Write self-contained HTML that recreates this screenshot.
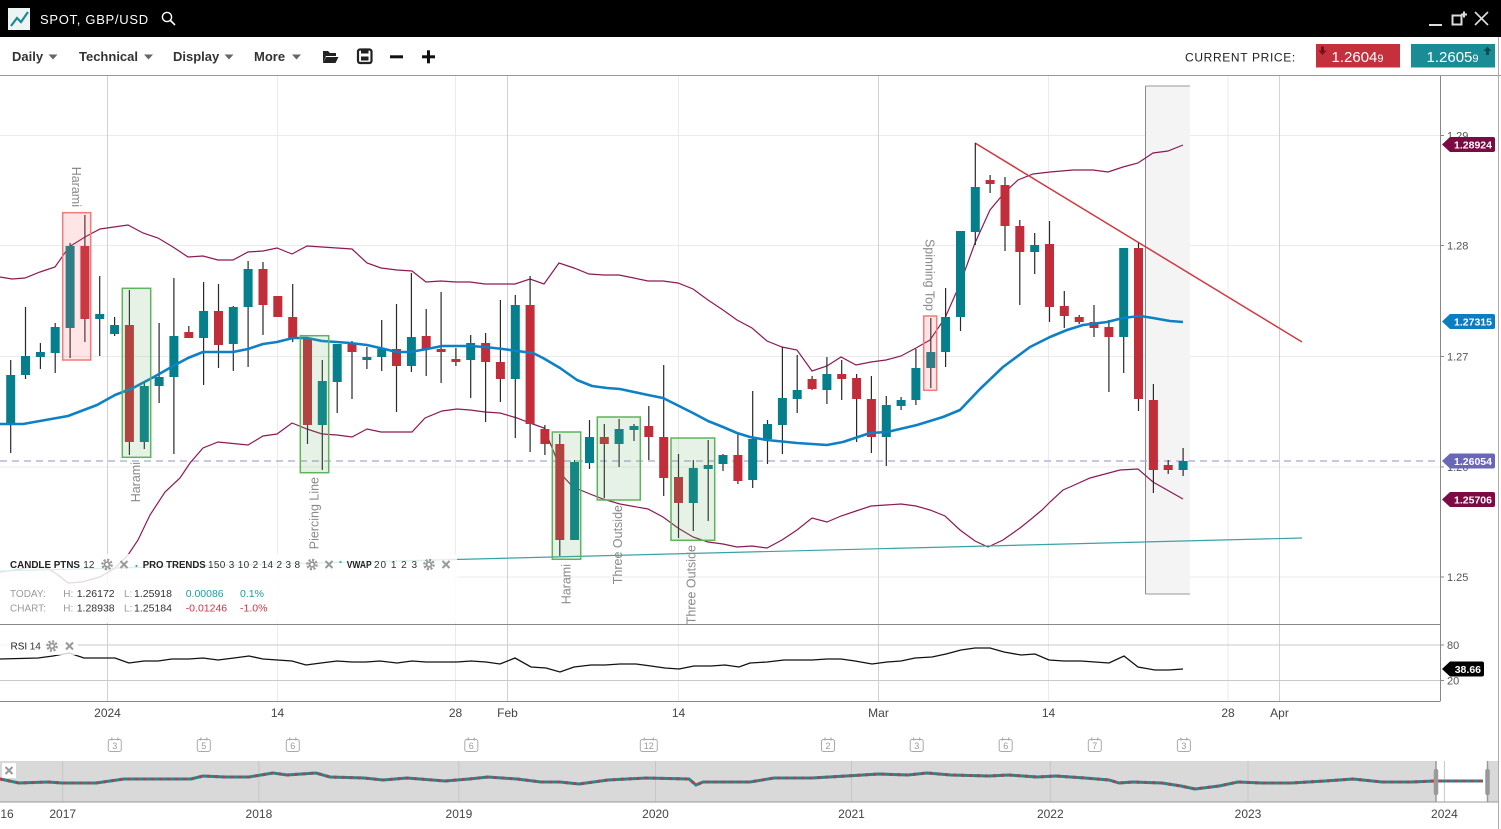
<!DOCTYPE html>
<html><head><meta charset="utf-8"><style>
html,body{margin:0;padding:0;background:#fff;width:1501px;height:829px;overflow:hidden}
svg{display:block;font-family:"Liberation Sans",Arial,sans-serif}
</style></head><body>
<svg width="1501" height="829" viewBox="0 0 1501 829" xmlns="http://www.w3.org/2000/svg">
<rect x="0" y="0" width="1501" height="829" fill="#fff"/>
<!-- title bar -->
<rect x="0" y="0" width="1501" height="37" fill="#000"/>
<rect x="8" y="8" width="22" height="22" fill="#eef3f3"/>
<polyline points="11,26 17,18 21,22 28,12" fill="none" stroke="#1a8a96" stroke-width="2.2"/>
<text x="40" y="24" fill="#fff" font-size="13" letter-spacing="0.7">SPOT, GBP/USD</text>
<circle cx="167" cy="17" r="4.6" fill="none" stroke="#fff" stroke-width="1.4"/>
<line x1="170.5" y1="20.5" x2="175" y2="25" stroke="#fff" stroke-width="1.6"/>
<line x1="1429" y1="25" x2="1442" y2="25" stroke="#ddd" stroke-width="2"/>
<rect x="1452.5" y="15.5" width="9" height="9" fill="none" stroke="#ddd" stroke-width="2"/>
<path d="M1461 14.5h6M1464 11.5v6" stroke="#ddd" stroke-width="2"/>
<path d="M1475 12L1488 25M1488 12L1475 25" stroke="#ddd" stroke-width="1.6"/>
<!-- toolbar -->
<g font-size="13" font-weight="bold" fill="#333">
<text x="12" y="61">Daily</text>
<text x="79" y="61">Technical</text>
<text x="173" y="61">Display</text>
<text x="254" y="61">More</text>
</g>
<g fill="#666">
<polygon points="48.5,54.5 57.5,54.5 53,59.5"/>
<polygon points="144,54.5 153,54.5 148.5,59.5"/>
<polygon points="224.5,54.5 233.5,54.5 229,59.5"/>
<polygon points="292,54.5 301,54.5 296.5,59.5"/>
</g>
<path d="M323 51h5l2 2h6v3h-10l-3 7z" fill="#222"/>
<path d="M326 57h12.5l-3 6h-12.5z" fill="#222"/>
<rect x="358" y="49.5" width="13.5" height="13.5" rx="2" fill="none" stroke="#222" stroke-width="2.2"/>
<rect x="361" y="50" width="7.5" height="3.5" fill="#222"/>
<rect x="361" y="56.5" width="7.5" height="4" fill="#222"/>
<rect x="390" y="55.3" width="13" height="3" fill="#111"/>
<rect x="422" y="55.3" width="13" height="3" fill="#111"/>
<rect x="427" y="50.3" width="3" height="13" fill="#111"/>
<text x="1185" y="61.5" font-size="12" fill="#222" letter-spacing="0.65">CURRENT PRICE:</text>
<rect x="1316" y="44" width="84" height="23.5" fill="#c4303b"/>
<text x="1331.5" y="62" font-size="15" fill="#fff">1.2604<tspan font-size="11">9</tspan></text>
<path d="M1321 46.5h3v4h2.5l-4 4.5l-4-4.5h2.5z" fill="#7a1018"/>
<rect x="1411" y="44" width="84" height="23.5" fill="#198c96"/>
<text x="1426.5" y="62" font-size="15" fill="#fff">1.2605<tspan font-size="11">9</tspan></text>
<path d="M1486 55v-4h-2.5l4-4.5l4 4.5h-2.5v4z" fill="#0b4f55"/>
<line x1="0" y1="75.5" x2="1501" y2="75.5" stroke="#999" stroke-width="1"/>
<line x1="1498.5" y1="37" x2="1498.5" y2="829" stroke="#aaa" stroke-width="1"/>

<!-- grid -->
<g stroke="#ebebeb" stroke-width="1">
<line x1="0" y1="135.5" x2="1440" y2="135.5"/>
<line x1="0" y1="245.5" x2="1440" y2="245.5"/>
<line x1="0" y1="356.5" x2="1440" y2="356.5"/>
<line x1="0" y1="467" x2="1440" y2="467"/>
<line x1="0" y1="577" x2="1440" y2="577"/>
<line x1="277.5" y1="76" x2="277.5" y2="701"/>
<line x1="455.5" y1="76" x2="455.5" y2="701"/>
<line x1="678.5" y1="76" x2="678.5" y2="701"/>
<line x1="1048.5" y1="76" x2="1048.5" y2="701"/>
<line x1="1228" y1="76" x2="1228" y2="701"/>
</g>
<g stroke="#d2d2d2" stroke-width="1">
<line x1="107.5" y1="76" x2="107.5" y2="701"/>
<line x1="507.5" y1="76" x2="507.5" y2="701"/>
<line x1="878.5" y1="76" x2="878.5" y2="701"/>
<line x1="1279.5" y1="76" x2="1279.5" y2="701"/>
</g>

<!-- highlighted region -->
<rect x="1145.5" y="86" width="44.5" height="508" fill="#f4f4f4"/>
<line x1="1145.5" y1="86" x2="1190" y2="86" stroke="#999"/>
<line x1="1145.5" y1="594" x2="1190" y2="594" stroke="#999"/>
<line x1="1145.5" y1="86" x2="1145.5" y2="594" stroke="#888"/>

<!-- current price dashed -->
<line x1="0" y1="461" x2="1440" y2="461" stroke="#b8b3da" stroke-width="1.5" stroke-dasharray="7,5"/>

<!-- bollinger -->
<polyline fill="none" stroke="#8c1a55" stroke-width="1.2" points="0,277 12,279 25,278 40,272 55,267 69,247 85,237 100,229 128,225 143,233 158,238 173,247 188,257 203,256 218,260 233,260 248,252 263,251 277,248 292,254 307,246 322,247 337,248 352,249 367,263 381,268 397,270 412,271 426,282 441,281 456,282 470,282 485,284 500,284 515,284 530,279 544,284 559,263 574,268 589,274 604,275 619,275 634,278 648,281 663,281 678,283 693,289 708,300 723,310 737,320 752,328 767,341 782,347 797,350 812,371 827,366 841,357 856,365 871,362 886,360 901,356 916,348 930,340 945,318 960,284 975,243 990,210 1005,192 1018,180 1033,174 1050,172 1073,170 1093,170 1108,172 1123,167 1138,163 1153,153 1168,151 1183,145"/>
<polyline fill="none" stroke="#8c1a55" stroke-width="1.2" points="0,572 15,570 30,567 47,568 58,575 68,583 82,582 100,577 115,568 128,555 138,540 150,515 165,492 180,478 190,463 203,448 218,442 248,445 263,436 277,434 292,423 307,429 322,434 337,435 352,437 367,429 381,432 397,432 412,432 425,418 442,411 457,409 470,410 485,412 500,413 517,418 530,423 544,428 557,460 560,473 573,487 590,494 603,499 620,504 648,509 663,517 678,528 693,537 708,542 723,544 737,547 752,546 767,548 782,540 797,530 812,518 827,522 841,516 856,511 871,506 886,505 901,504 916,506 930,510 945,516 960,530 975,541 988,547 1003,540 1020,528 1030,520 1042,510 1050,502 1063,490 1070,487 1090,478 1120,470 1138,469 1153,482 1183,499"/>
<!-- trend lines -->
<line x1="0" y1="571" x2="1302" y2="538" stroke="#3aa3a6" stroke-width="1.2"/>
<line x1="975" y1="143" x2="1302" y2="342" stroke="#d03a40" stroke-width="1.5"/>

<!-- candles wicks -->
<path stroke="#2a2a2a" stroke-width="1.2" fill="none" d="M10.7 360V453M25.5 307V379M40.4 343V369M55.2 323V373M70.1 243V358M84.9 215V342M99.7 276V356M114.6 317V336M129.4 290V455M144.3 383V449M159.1 323V403M173.9 278V454M188.8 326V338M203.6 282V385M218.5 284V368M233.3 306V371M248.1 261V367M263 262V335M277.8 296V317M292.7 284V342M307.5 339V444M322.3 360V470M337.2 344V413M352 341V399M366.9 347V369M381.7 320V371M396.5 304V412M411.4 273V372M426.2 309V376M441.1 292V383M455.9 348V366M470.7 335V398M485.6 333V422M500.4 300V402M515.3 295V438M530.1 276V452M544.9 425V455M559.8 434V556M574.6 460V540M589.5 420V469M604.3 424V498M619.1 419V467M634 424V441M648.8 406V460M663.7 365V496M678.5 454V538M693.3 460V531M708.2 440V521M723 454V471M737.9 433V484M752.7 391V488M767.5 420V464M782.4 347V454M797.2 355V413M812.1 376V390M826.9 357V404M841.7 360V400M856.6 374V442M871.4 376V453M886.3 396V466M901.1 397V410M915.9 349V405M930.8 318V388M945.6 288V367M960.5 231V331M975.3 143V245M990.1 175V193M1005 177V251M1019.8 220V305M1034.7 233V274M1049.5 221V322M1064.3 291V328M1079.2 315V324M1094 305V337M1108.9 320V392M1123.7 248V373M1138.5 243V411M1153.4 384V493M1168.2 460V474M1183.1 448V476"/>
<!-- teal bodies -->
<g fill="#057f8b">
<rect x="6.2" y="375" width="9" height="48"/>
<rect x="21" y="356" width="9" height="19"/>
<rect x="35.9" y="352" width="9" height="5"/>
<rect x="50.7" y="327" width="9" height="26"/>
<rect x="65.6" y="246" width="9" height="82"/>
<rect x="95.2" y="314" width="9" height="5"/>
<rect x="110.1" y="325" width="9" height="9"/>
<rect x="139.8" y="386" width="9" height="56"/>
<rect x="154.6" y="377" width="9" height="9"/>
<rect x="169.4" y="336" width="9" height="41"/>
<rect x="199.1" y="311" width="9" height="27"/>
<rect x="228.8" y="307" width="9" height="37"/>
<rect x="243.6" y="269" width="9" height="38"/>
<rect x="317.8" y="381" width="9" height="44"/>
<rect x="332.7" y="344" width="9" height="38"/>
<rect x="362.4" y="357" width="9" height="3"/>
<rect x="377.2" y="349" width="9" height="8"/>
<rect x="406.9" y="337" width="9" height="29"/>
<rect x="466.2" y="343" width="9" height="17"/>
<rect x="510.8" y="305" width="9" height="74"/>
<rect x="570.1" y="462" width="9" height="78"/>
<rect x="585" y="437" width="9" height="26"/>
<rect x="614.6" y="429" width="9" height="15"/>
<rect x="629.5" y="426" width="9" height="4"/>
<rect x="688.8" y="468" width="9" height="35"/>
<rect x="703.7" y="465" width="9" height="4"/>
<rect x="718.5" y="455" width="9" height="9"/>
<rect x="748.2" y="439" width="9" height="41"/>
<rect x="763" y="424" width="9" height="15"/>
<rect x="777.9" y="398" width="9" height="27"/>
<rect x="792.7" y="390" width="9" height="9"/>
<rect x="822.4" y="374" width="9" height="16"/>
<rect x="881.8" y="405" width="9" height="32"/>
<rect x="896.6" y="400" width="9" height="6"/>
<rect x="911.4" y="368" width="9" height="32"/>
<rect x="926.3" y="352" width="9" height="16"/>
<rect x="941.1" y="317" width="9" height="35"/>
<rect x="956" y="231" width="9" height="86"/>
<rect x="970.8" y="187" width="9" height="45"/>
<rect x="1030.2" y="245" width="9" height="7"/>
<rect x="1119.2" y="248" width="9" height="89"/>
<rect x="1178.6" y="461" width="9" height="9"/>
</g>
<!-- red bodies -->
<g fill="#c12d39">
<rect x="80.4" y="246" width="9" height="73"/>
<rect x="124.9" y="325" width="9" height="117"/>
<rect x="184.3" y="332" width="9" height="6"/>
<rect x="214" y="311" width="9" height="34"/>
<rect x="258.5" y="269" width="9" height="36"/>
<rect x="273.3" y="296" width="9" height="21"/>
<rect x="288.2" y="317" width="9" height="22"/>
<rect x="303" y="339" width="9" height="86"/>
<rect x="347.5" y="344" width="9" height="8"/>
<rect x="392" y="349" width="9" height="17"/>
<rect x="421.7" y="336" width="9" height="13"/>
<rect x="436.6" y="349" width="9" height="3"/>
<rect x="451.4" y="359" width="9" height="3"/>
<rect x="481.1" y="343" width="9" height="19"/>
<rect x="495.9" y="362" width="9" height="17"/>
<rect x="525.6" y="305" width="9" height="119"/>
<rect x="540.4" y="429" width="9" height="15"/>
<rect x="555.3" y="444" width="9" height="96"/>
<rect x="599.8" y="437" width="9" height="7"/>
<rect x="644.3" y="426" width="9" height="11"/>
<rect x="659.2" y="437" width="9" height="41"/>
<rect x="674" y="477" width="9" height="26"/>
<rect x="733.4" y="455" width="9" height="26"/>
<rect x="807.6" y="379" width="9" height="10"/>
<rect x="837.2" y="374" width="9" height="5"/>
<rect x="852.1" y="378" width="9" height="21"/>
<rect x="866.9" y="399" width="9" height="38"/>
<rect x="985.6" y="180" width="9" height="4"/>
<rect x="1000.5" y="185" width="9" height="41"/>
<rect x="1015.3" y="226" width="9" height="26"/>
<rect x="1045" y="244" width="9" height="63"/>
<rect x="1059.8" y="306" width="9" height="10"/>
<rect x="1074.7" y="317" width="9" height="5"/>
<rect x="1089.5" y="322" width="9" height="6"/>
<rect x="1104.4" y="327" width="9" height="10"/>
<rect x="1134" y="248" width="9" height="151"/>
<rect x="1148.9" y="400" width="9" height="70"/>
<rect x="1163.7" y="465" width="9" height="5"/>
</g>

<!-- moving average -->
<polyline fill="none" stroke="#0d80c6" stroke-width="2.6" stroke-linejoin="round" points="0,424 23,424 68,416 97,405 115,395 133,388 152,378 175,365 188,358 203,352 233,352 248,349 263,344 277,342 293,338 307,338 322,341 337,342 350,343 367,345 380,348 397,352 410,352 427,349 442,346 470,346 485,347 503,349 517,351 533,353 543,358 560,368 577,380 592,386 607,388 620,389 648,395 663,398 677,405 693,413 708,421 723,427 737,433 750,437 767,440 797,443 827,445 843,442 870,433 887,432 917,425 943,417 960,410 980,389 1003,367 1030,347 1050,337 1067,330 1083,325 1107,322 1123,318 1140,316 1153,318 1170,321 1183,322"/>

<!-- pattern boxes -->
<g stroke-width="1.5">
<rect x="62.7" y="212.7" width="28" height="147.3" fill="rgba(255,110,110,0.18)" stroke="#f27a7a"/>
<rect x="923.7" y="316" width="13" height="74.3" fill="rgba(255,110,110,0.18)" stroke="#f27a7a"/>
<g fill="rgba(100,175,100,0.17)" stroke="#5cb55c">
<rect x="122.3" y="288.3" width="28.4" height="169"/>
<rect x="300.3" y="335.7" width="28.4" height="137"/>
<rect x="552.3" y="432" width="28.4" height="127.3"/>
<rect x="597.3" y="417" width="43" height="83"/>
<rect x="671" y="438" width="43.7" height="102.3"/>
</g>
</g>
<!-- pattern labels -->
<g font-size="12.5" fill="#8a8a8a">
<text transform="translate(72,207) rotate(90)" text-anchor="end">Harami</text>
<text transform="translate(925.5,311) rotate(90)" text-anchor="end">Spinning Top</text>
<text transform="translate(140,462) rotate(-90)" text-anchor="end">Harami</text>
<text transform="translate(318.5,477) rotate(-90)" text-anchor="end">Piercing Line</text>
<text transform="translate(570.5,564) rotate(-90)" text-anchor="end">Harami</text>
<text transform="translate(622,505) rotate(-90)" text-anchor="end">Three Outside</text>
<text transform="translate(695.5,545) rotate(-90)" text-anchor="end">Three Outside</text>
</g>

<!-- legend overlay -->
<rect x="0" y="554" width="457" height="69" fill="#fff" fill-opacity="0.82"/>
<g font-size="10" fill="#222">
<text x="10" y="568" font-weight="bold" textLength="70" lengthAdjust="spacingAndGlyphs">CANDLE PTNS</text>
<text x="83.3" y="568" fill="#333">12</text>
<text x="142.7" y="568" font-weight="bold" textLength="63" lengthAdjust="spacingAndGlyphs">PRO TRENDS</text>
<text x="208" y="568" fill="#333" textLength="92">150 3 10 2 14 2 3 8</text>
<text x="346.7" y="568" font-weight="bold" textLength="25" lengthAdjust="spacingAndGlyphs">VWAP</text>
<text x="374" y="568" fill="#333" textLength="43">20 1 2 3</text>
</g>
<circle cx="136.5" cy="566" r="1.1" fill="#3aa3a6"/>
<circle cx="340.5" cy="562" r="1.1" fill="#3aa3a6"/>
<g fill="#999" stroke="#999">
<g transform="translate(107,564.5)"><circle r="3.3" stroke="none"/><circle r="4.6" fill="none" stroke-width="2.4" stroke-dasharray="2.1 1.5"/><circle r="1.5" fill="#fff" stroke="none"/></g>
<g transform="translate(312,564.5)"><circle r="3.3" stroke="none"/><circle r="4.6" fill="none" stroke-width="2.4" stroke-dasharray="2.1 1.5"/><circle r="1.5" fill="#fff" stroke="none"/></g>
<g transform="translate(429,564.5)"><circle r="3.3" stroke="none"/><circle r="4.6" fill="none" stroke-width="2.4" stroke-dasharray="2.1 1.5"/><circle r="1.5" fill="#fff" stroke="none"/></g>
<path fill="none" stroke-width="2" d="M120.5 561L127.5 568M127.5 561L120.5 568M325.5 561L332.5 568M332.5 561L325.5 568M442.5 561L449.5 568M449.5 561L442.5 568"/>
</g>
<g font-size="10">
<text x="10" y="597" fill="#9a9a9a">TODAY:</text>
<text x="63.3" y="597" fill="#9a9a9a">H:</text>
<text x="76.7" y="597" fill="#333" font-size="10.5">1.26172</text>
<text x="124" y="597" fill="#9a9a9a">L:</text>
<text x="134" y="597" fill="#333" font-size="10.5">1.25918</text>
<text x="185.7" y="597" fill="#1b9ba2" font-size="10.5">0.00086</text>
<text x="240" y="597" fill="#1b9ba2" font-size="10.5">0.1%</text>
<text x="10" y="611.5" fill="#9a9a9a">CHART:</text>
<text x="63.3" y="611.5" fill="#9a9a9a">H:</text>
<text x="76.7" y="611.5" fill="#333" font-size="10.5">1.28938</text>
<text x="124" y="611.5" fill="#9a9a9a">L:</text>
<text x="134" y="611.5" fill="#333" font-size="10.5">1.25184</text>
<text x="185.7" y="611.5" fill="#d23343" font-size="10.5">-0.01246</text>
<text x="240" y="611.5" fill="#d23343" font-size="10.5">-1.0%</text>
</g>

<!-- panes borders -->
<line x1="0" y1="624.5" x2="1440" y2="624.5" stroke="#888"/>
<line x1="0" y1="645" x2="1440" y2="645" stroke="#c9c9c9"/>
<line x1="0" y1="680.5" x2="1440" y2="680.5" stroke="#c9c9c9"/>
<line x1="0" y1="701.5" x2="1440" y2="701.5" stroke="#888"/>
<line x1="1440.5" y1="76" x2="1440.5" y2="701.5" stroke="#888"/>
<!-- rsi -->
<polyline fill="none" stroke="#111" stroke-width="1.3" points="0,659 38,658 53,656 69,653 84,658 115,658 129,663 144,661 158,661 172,659 189,659 203,658 218,660 234,658 249,656 263,659 292,661 306,665 321,663 337,661 352,662 366,662 380,661 397,663 412,661 426,662 440,662 457,662 471,661 486,662 500,664 515,658 531,667 546,668 560,672 574,667 591,665 605,665 620,664 636,664 651,666 665,668 679,669 694,666 711,666 725,665 739,667 750,663 767,662 784,660 798,660 812,660 827,659 841,659 855,661 872,664 887,662 901,661 915,658 932,657 946,654 961,650 975,648 990,648 1004,652 1021,655 1035,654 1049,660 1064,661 1081,661 1095,662 1109,663 1124,656 1138,667 1155,670 1169,670 1183,669"/>
<rect x="0" y="638" width="78" height="17" fill="#fff" fill-opacity="0.8"/>
<text x="10.5" y="649.5" font-size="10" fill="#222">RSI</text>
<text x="29.7" y="649.5" font-size="10" fill="#333">14</text>
<g fill="#999" stroke="#999">
<g transform="translate(52,646)"><circle r="3.3" stroke="none"/><circle r="4.6" fill="none" stroke-width="2.4" stroke-dasharray="2.1 1.5"/><circle r="1.5" fill="#fff" stroke="none"/></g>
<path fill="none" stroke-width="2" d="M66 642.5L73 649.5M73 642.5L66 649.5"/>
</g>

<!-- right axis -->
<g stroke="#888"><path d="M1440 135.5h4M1440 245.5h4M1440 356.5h4M1440 467h4M1440 577h4M1440 645h4M1440 680.5h4"/></g>
<g font-size="11" fill="#555">
<text x="1447" y="139.5">1.29</text>
<text x="1447" y="249.5">1.28</text>
<text x="1447" y="360.5">1.27</text>
<text x="1447" y="471">1.26</text>
<text x="1447" y="581">1.25</text>
<text x="1447" y="649">80</text>
<text x="1447" y="684.5">20</text>
</g>
<g font-size="10.5" font-weight="bold" fill="#fff" text-anchor="end">
<path d="M1442 144.5L1450 137H1493a2 2 0 0 1 2 2V150a2 2 0 0 1-2 2H1450z" fill="#7d0b43"/>
<text x="1492" y="148.5">1.28924</text>
<path d="M1442 321.5L1450 314H1493a2 2 0 0 1 2 2V327a2 2 0 0 1-2 2H1450z" fill="#0b7dc2"/>
<text x="1492" y="325.5">1.27315</text>
<path d="M1442 461L1450 453.5H1493a2 2 0 0 1 2 2V466.5a2 2 0 0 1-2 2H1450z" fill="#6a66b8"/>
<text x="1492" y="465">1.26054</text>
<path d="M1442 499.5L1450 492H1493a2 2 0 0 1 2 2V505a2 2 0 0 1-2 2H1450z" fill="#7d0b43"/>
<text x="1492" y="503.5">1.25706</text>
<path d="M1442 669L1450 661.5H1482a2 2 0 0 1 2 2V674.5a2 2 0 0 1-2 2H1450z" fill="#000"/>
<text x="1481" y="673">38.66</text>
</g>

<!-- x axis labels -->
<g font-size="12" fill="#444" text-anchor="middle">
<text x="107.5" y="717">2024</text>
<text x="277.5" y="717">14</text>
<text x="455.5" y="717">28</text>
<text x="507.5" y="717">Feb</text>
<text x="678.5" y="717">14</text>
<text x="878.5" y="717">Mar</text>
<text x="1048.5" y="717">14</text>
<text x="1228" y="717">28</text>
<text x="1279.5" y="717">Apr</text>
</g>
<!-- calendar icons -->
<g fill="#fff" stroke="#aaa" stroke-width="1">
<rect x="108.3" y="739.5" width="13" height="12" rx="2"/>
<rect x="197.3" y="739.5" width="13" height="12" rx="2"/>
<rect x="286.3" y="739.5" width="13" height="12" rx="2"/>
<rect x="464.8" y="739.5" width="13" height="12" rx="2"/>
<rect x="640.3" y="739.5" width="17" height="12" rx="2"/>
<rect x="821.5" y="739.5" width="13" height="12" rx="2"/>
<rect x="910.2" y="739.5" width="13" height="12" rx="2"/>
<rect x="999.2" y="739.5" width="13" height="12" rx="2"/>
<rect x="1088.3" y="739.5" width="13" height="12" rx="2"/>
<rect x="1177.4" y="739.5" width="13" height="12" rx="2"/>
</g>
<g stroke="#aaa" stroke-width="1.2">
<path d="M111.8 737.5v3M117.8 737.5v3M200.8 737.5v3M206.8 737.5v3M289.8 737.5v3M295.8 737.5v3M468.3 737.5v3M474.3 737.5v3M644.3 737.5v3M653.3 737.5v3M825 737.5v3M831 737.5v3M913.7 737.5v3M919.7 737.5v3M1002.7 737.5v3M1008.7 737.5v3M1091.8 737.5v3M1097.8 737.5v3M1180.9 737.5v3M1186.9 737.5v3"/>
</g>
<g font-size="9" fill="#999" text-anchor="middle">
<text x="114.8" y="749">3</text>
<text x="203.8" y="749">5</text>
<text x="292.8" y="749">6</text>
<text x="471.3" y="749">6</text>
<text x="648.8" y="749">12</text>
<text x="828" y="749">2</text>
<text x="916.7" y="749">3</text>
<text x="1005.7" y="749">6</text>
<text x="1094.8" y="749">7</text>
<text x="1183.9" y="749">3</text>
</g>

<!-- navigator -->
<rect x="0" y="761" width="1498" height="41" fill="#d9d9d9"/>
<rect x="1436" y="761" width="51.5" height="41" fill="#fff"/>
<g stroke="#c6c6c6"><path d="M62.7 761v41M258.9 761v41M458.9 761v41M655.5 761v41M851.5 761v41M1050.3 761v41M1248 761v41M1444.4 761v41"/></g>
<line x1="0" y1="802" x2="1498" y2="802" stroke="#999"/>
<polyline fill="none" stroke="#1a8a94" stroke-width="3" points="0,779 19,783 48,782 62,783 96,783 124,779 158,779 191,779 203,776 225,777 249,777 261,775 273,773 287,775 316,773 330,777 364,778 383,780 407,778 445,781 469,779 488,777 517,779 541,782 560,782 579,784 608,780 646,778 689,779 696,785 703,782 732,782 750,782 774,778 812,778 846,776 879,774 908,775 927,773 951,775 989,776 1009,775 1037,777 1056,776 1085,778 1109,780 1119,783 1133,782 1162,783 1181,786 1195,789 1219,786 1238,782 1262,783 1291,783 1325,781 1353,779 1382,782 1411,782 1435,781 1459,781 1483,781"/>
<polyline fill="none" stroke="#c23a40" stroke-width="3" stroke-dasharray="3 5" points="0,779 19,783 48,782 62,783 96,783 124,779 158,779 191,779 203,776 225,777 249,777 261,775 273,773 287,775 316,773 330,777 364,778 383,780 407,778 445,781 469,779 488,777 517,779 541,782 560,782 579,784 608,780 646,778 689,779 696,785 703,782 732,782 750,782 774,778 812,778 846,776 879,774 908,775 927,773 951,775 989,776 1009,775 1037,777 1056,776 1085,778 1109,780 1119,783 1133,782 1162,783 1181,786 1195,789 1219,786 1238,782 1262,783 1291,783 1325,781 1353,779 1382,782 1411,782 1435,781 1459,781 1483,781"/>
<g stroke="#999"><line x1="1436" y1="761" x2="1436" y2="802" stroke-width="1.5"/><line x1="1487.5" y1="761" x2="1487.5" y2="802" stroke-width="1.5"/>
<line x1="1436" y1="771" x2="1436" y2="793" stroke-width="4.5" stroke-linecap="round"/><line x1="1487.5" y1="771" x2="1487.5" y2="793" stroke-width="4.5" stroke-linecap="round"/></g>
<rect x="2" y="763" width="14" height="15" fill="#fff"/>
<path d="M5.5 767L12.5 774M12.5 767L5.5 774" stroke="#999" stroke-width="2"/>
<g font-size="12" fill="#444" text-anchor="middle">
<text x="7" y="818">16</text>
<text x="62.7" y="818">2017</text>
<text x="258.9" y="818">2018</text>
<text x="458.9" y="818">2019</text>
<text x="655.5" y="818">2020</text>
<text x="851.5" y="818">2021</text>
<text x="1050.3" y="818">2022</text>
<text x="1248" y="818">2023</text>
<text x="1444.4" y="818">2024</text>
</g>
</svg>
</body></html>
